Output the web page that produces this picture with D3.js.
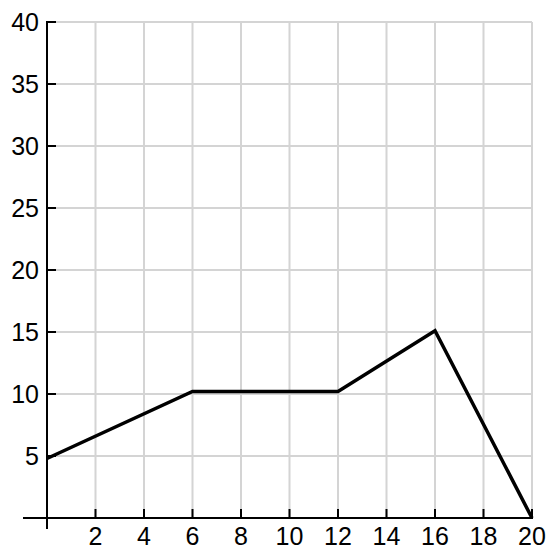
<!DOCTYPE html>
<html><head><meta charset="utf-8">
<script src="https://cdn.jsdelivr.net/npm/d3@7"></script>
<style>html,body{margin:0;padding:0;background:#fff}</style>
</head><body>
<script>
const xValues = [0, 6, 12, 16, 20];
const yValues = [4.8, 10.2, 10.2, 15.1, 0];
const xTicks = [2, 4, 6, 8, 10, 12, 14, 16, 18, 20];
const yTicks = [5, 10, 15, 20, 25, 30, 35, 40];

const W = 550, H = 550;
const svg = d3.select("body").append("svg").attr("width", W).attr("height", H);
const x = d3.scaleLinear().domain([0, 20]).range([47, 532]);
const y = d3.scaleLinear().domain([0, 40]).range([518, 22]);

const grid = svg.append("g").attr("stroke", "#d4d4d4").attr("stroke-width", 2);
grid.selectAll(".v").data(xTicks).join("line")
  .attr("x1", d => x(d)).attr("x2", d => x(d)).attr("y1", y(40)).attr("y2", y(0));
grid.selectAll(".h").data(yTicks).join("line")
  .attr("x1", x(0)).attr("x2", x(20)).attr("y1", d => y(d)).attr("y2", d => y(d));

// axes
const ax = svg.append("g").attr("stroke", "#000").attr("stroke-width", 2);
ax.append("line").attr("x1", 23).attr("x2", x(20) + 1).attr("y1", y(0)).attr("y2", y(0));
ax.append("line").attr("x1", x(0)).attr("x2", x(0)).attr("y1", y(40) - 1).attr("y2", 529);
ax.selectAll(".xt").data(xTicks).join("line")
  .attr("x1", d => x(d)).attr("x2", d => x(d)).attr("y1", y(0)).attr("y2", y(0) - 9);
ax.selectAll(".yt").data(yTicks).join("line")
  .attr("x1", x(0)).attr("x2", x(0) + 9).attr("y1", d => y(d)).attr("y2", d => y(d));

const font = "'Liberation Sans', Arial, sans-serif";
svg.selectAll(".xl").data(xTicks).join("text")
  .attr("x", d => x(d)).attr("y", 545)
  .attr("text-anchor", "middle").attr("font-family", font).attr("font-size", 25)
  .attr("fill", "#000").text(d => d);
svg.selectAll(".yl").data(yTicks).join("text")
  .attr("x", 39).attr("y", d => y(d)).attr("dy", "0.36em")
  .attr("text-anchor", "end").attr("font-family", font).attr("font-size", 25)
  .attr("fill", "#000").text(d => d);

const pts = xValues.map((v, i) => [v, yValues[i]]);
svg.append("path").datum(pts)
  .attr("fill", "none").attr("stroke", "#000").attr("stroke-width", 3.5)
  .attr("stroke-linejoin", "miter")
  .attr("d", d3.line().x(d => x(d[0])).y(d => y(d[1])));
</script>
</body></html>
